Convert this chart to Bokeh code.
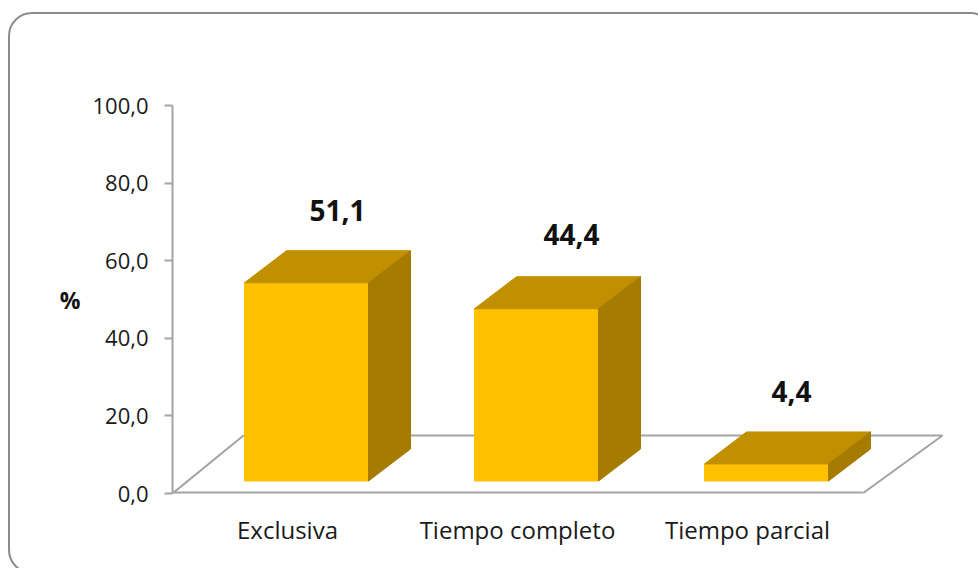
from bokeh.plotting import figure
from bokeh.models import ColumnDataSource, FixedTicker, Range1d, InlineStyleSheet
from bokeh.core.properties import value
from bokeh.embed import file_html
from bokeh.resources import INLINE

categories = ["Exclusiva", "Tiempo completo", "Tiempo parcial"]
values = [51.1, 44.4, 4.4]
labels = ["51,1", "44,4", "4,4"]
y_ticks = [0, 20, 40, 60, 80, 100]
y_tick_labels = ["0,0", "20,0", "40,0", "60,0", "80,0", "100,0"]

W, H = 978, 568
LEFT, RIGHT, TOP, BOTTOM = 172, 954, 105, 493
PX_X = 230.0            # pixels per category
PX_Y = 3.88             # pixels per percent
FONT = "Open Sans"
GREY = "#a3a3a3"

card = InlineStyleSheet(css="""
:host { overflow: hidden; }
:host::after {
  content: ""; position: absolute; left: 8px; top: 12px; width: 982px; height: 558px;
  border: 2px solid #8c8c8c; border-radius: 24px; pointer-events: none;
}
""")

p = figure(width=W, height=H, output_backend="svg", toolbar_location=None,
           x_range=Range1d(0, (RIGHT - LEFT) / PX_X), y_range=Range1d(0, 100),
           min_border_left=LEFT, min_border_right=W - RIGHT,
           min_border_top=TOP, min_border_bottom=H - BOTTOM,
           stylesheets=[card])
p.grid.visible = False
p.outline_line_color = None

# floor of the 3D box, in category / percent units
fd_x, fd_y = 71 / PX_X, 58 / PX_Y
fw = 690 / PX_X
fr = 80 / PX_X
p.line([0, fw], [0, 0], line_color=GREY, line_width=4)   # half clipped by the frame edge
p.line([0, fd_x], [0, fd_y], line_color=GREY, line_width=2)
p.line([fw, fw + fr, fd_x], [0, fd_y, fd_y], line_color=GREY, line_width=2)

# bars
bw = 124 / PX_X
off = 19 / PX_X
base = 12.5 / PX_Y
dx, dy = 42 / PX_X, 32 / PX_Y
fx, fy, tx, ty, sx, sy, lx, ly = [], [], [], [], [], [], [], []
for i, v in enumerate(values):
    x0 = i + 0.5 + off - bw / 2
    x1 = x0 + bw
    y0 = base
    y1 = base + v
    fx.append([x0, x1, x1, x0]); fy.append([y0, y0, y1, y1])
    tx.append([x0, x1, x1 + dx, x0 + dx]); ty.append([y1, y1, y1 + dy, y1 + dy])
    sx.append([x1, x1 + dx, x1 + dx, x1]); sy.append([y0, y0 + dy, y1 + dy, y1])
    lx.append((x0 + x1) / 2 + dx * 0.74); ly.append(y1 + dy)

p.patches(fx, fy, fill_color="#FFC000", line_color="#FFC000", line_width=1)
p.patches(tx, ty, fill_color="#C09000", line_color="#C09000", line_width=1)
p.patches(sx, sy, fill_color="#A67C00", line_color="#A67C00", line_width=1)

src = ColumnDataSource(dict(x=lx, y=ly, t=labels, ox=[0, 4, -6], oy=[-40, -42, -40]))
p.text("x", "y", text="t", source=src, text_align="center", text_baseline="middle",
       x_offset="ox", y_offset="oy", text_font=value(FONT), text_font_style="bold",
       text_font_size="28px", text_color="#111111")

# axes
ya = p.yaxis[0]
ya.ticker = FixedTicker(ticks=y_ticks)
ya.major_label_overrides = dict(zip(y_ticks, y_tick_labels))
ya.major_label_text_font = FONT
ya.major_label_text_font_size = "22px"
ya.major_label_text_color = "#1a1a1a"
ya.major_label_standoff = 16
ya.major_tick_in = 0
ya.major_tick_out = 8
ya.major_tick_line_color = GREY
ya.major_tick_line_width = 2
ya.minor_tick_line_color = None
ya.axis_line_color = GREY
ya.axis_line_width = 2
ya.axis_label = "%"
ya.axis_label_orientation = "horizontal"
ya.axis_label_text_font = FONT
ya.axis_label_text_font_style = "bold"
ya.axis_label_text_font_size = "23px"
ya.axis_label_text_color = "#111111"
ya.axis_label_standoff = 9

xa = p.xaxis[0]
xa.ticker = FixedTicker(ticks=[i + 0.5 for i in range(len(categories))])
xa.major_label_overrides = {i + 0.5: c for i, c in enumerate(categories)}
xa.major_label_text_font = FONT
xa.major_label_text_font_size = "24px"
xa.major_label_text_color = "#1a1a1a"
xa.major_label_standoff = 13
xa.major_tick_line_color = None
xa.minor_tick_line_color = None
xa.axis_line_color = None

open("out.html", "w").write(file_html(p, INLINE))
